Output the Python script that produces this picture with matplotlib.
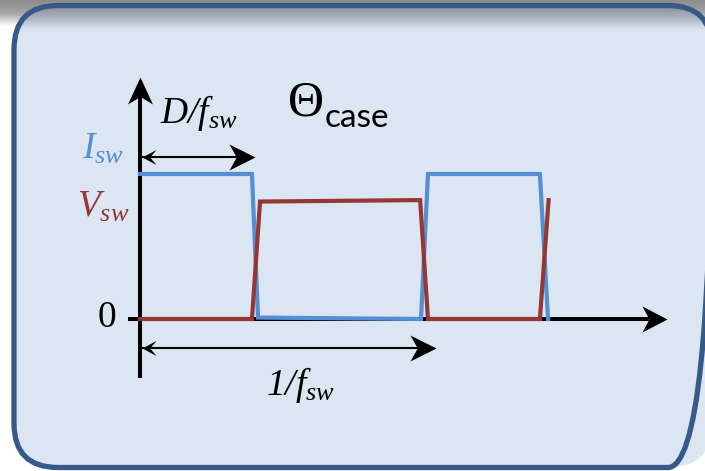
import numpy as np
import matplotlib.pyplot as plt
from matplotlib.patches import FancyBboxPatch
from matplotlib.markers import MarkerStyle
from matplotlib.path import Path
from matplotlib.transforms import Affine2D
from matplotlib.colors import LinearSegmentedColormap

plt.rcParams['mathtext.fontset'] = 'custom'
plt.rcParams['mathtext.it'] = 'Liberation Serif:italic'
plt.rcParams['mathtext.rm'] = 'Liberation Serif:italic'

# switching waveforms (time in arbitrary units, amplitude normalised to I_sw)
t_isw = [0, 38.6, 40.7, 96.9, 99.3, 137.9, 140.7]
i_sw = [1.0, 1.0, 0.01, 0.0, 1.0, 1.0, 0.0]
t_vsw = [0, 38.6, 41.4, 96.6, 99.3, 137.9, 140.9]
v_sw = [0.0, 0.0, 0.81, 0.82, 0.0, 0.0, 0.82]

d_end = 39.7        # D/f_sw marker
period_end = 102.0  # 1/f_sw marker

blue = '#558ed5'
red = '#953735'

fig = plt.figure(figsize=(7.05, 4.71), dpi=100)
fig.patch.set_facecolor('white')

# background / frame in pixel coords
bg = fig.add_axes([0, 0, 1, 1])
bg.set_xlim(0, 705)
bg.set_ylim(471, 0)
bg.axis('off')

grey = LinearSegmentedColormap.from_list('g', ['#8c8c8c', '#a4a4a4', '#ffffff'])
bg.imshow(np.linspace(0, 1, 60).reshape(-1, 1), cmap=grey, aspect='auto',
          extent=(0, 705, 26, 0), zorder=0)

box = FancyBboxPatch((14, 5.5), 698, 462, boxstyle='round,pad=0,rounding_size=44',
                     facecolor='#dce6f2', edgecolor='none', zorder=1)
bg.add_patch(box)
shade = LinearSegmentedColormap.from_list('s', ['#868d96', '#a9b1bc', '#dce6f2'])
im = bg.imshow(np.linspace(0, 1, 60).reshape(-1, 1), cmap=shade, aspect='auto',
               extent=(0, 705, 30, 5), zorder=2)
im.set_clip_path(box)
border = FancyBboxPatch((14, 5.5), 698, 462, boxstyle='round,pad=0,rounding_size=44',
                        facecolor='none', edgecolor='#36598a', linewidth=3.8, zorder=3)
bg.add_patch(border)

# waveform axes
PX_X, PX_Y = 2.9, 145.0
ax = fig.add_axes([0, 0, 1, 1], facecolor='none')
ax.set_xlim(-140 / PX_X, (705 - 140) / PX_X)
ax.set_ylim(-(471 - 319) / PX_Y, 319 / PX_Y)
ax.axis('off')


def head(x, y, angle, length, width, notch=0.72):
    # stealth arrowhead, length/width in pixels
    verts = [(0, 0), (-1, width / length), (-notch, 0), (-1, -width / length), (0, 0)]
    codes = [Path.MOVETO, Path.LINETO, Path.LINETO, Path.LINETO, Path.CLOSEPOLY]
    m = MarkerStyle(Path(verts, codes), transform=Affine2D().rotate_deg(angle))
    ax.plot([x], [y], marker=m, markersize=2 * length / 1.389,
            markerfacecolor='black', markeredgecolor='none', linestyle='none', zorder=6)


# axes arrows
ax.plot([0, 0], [-0.407, 1.669 - 0.7 * 27 / PX_Y], color='black', lw=2.9,
        solid_capstyle='butt', zorder=4)
head(0, 1.669, 90, 27, 12.5)
ax.plot([-4.14, 181.7 - 0.7 * 25 / PX_X], [0, 0], color='black', lw=2.9,
        solid_capstyle='butt', zorder=4)
head(181.7, 0, 0, 25, 13)

# waveforms
ax.plot(t_isw, i_sw, color=blue, lw=3.0, solid_joinstyle='miter', zorder=5)
ax.plot(t_vsw, v_sw, color=red, lw=3.0, solid_joinstyle='miter', zorder=5)

# D/f_sw dimension arrow
y_d = (319 - 157) / PX_Y
ax.plot([0.7, d_end - 0.7 * 26 / PX_X], [y_d, y_d], color='black', lw=1.5, zorder=4)
head(d_end, y_d, 0, 26, 13)
head(0.7, y_d, 180, 14, 7.5, notch=0.55)

# 1/f_sw dimension arrow
y_p = (319 - 348) / PX_Y
ax.plot([0.7, period_end - 0.7 * 26 / PX_X], [y_p, y_p], color='black', lw=1.5, zorder=4)
head(period_end, y_p, 0, 26, 13)
head(0.7, y_p, 180, 14, 7.5, notch=0.55)

# labels (pixel coords)
bg.text(160, 123, r'$D/f_{sw}$', fontsize=27, ha='left', va='baseline', zorder=7)
bg.text(288, 116, 'Θ', fontsize=36, family='Liberation Serif', ha='left', va='baseline', zorder=7)
bg.text(325, 127, 'case', fontsize=24, family='Lato', ha='left', va='baseline', zorder=7)
bg.text(124, 159, r'$I_{sw}$', fontsize=27, color=blue, ha='right', va='baseline', zorder=7)
bg.text(129, 217, r'$V_{sw}$', fontsize=27, color=red, ha='right', va='baseline', zorder=7)
bg.text(107, 327, '0', fontsize=27, family='Liberation Serif', ha='center', va='baseline', zorder=7)
bg.text(266, 395, r'$1/f_{sw}$', fontsize=27, ha='left', va='baseline', zorder=7)

fig.savefig('out.png', dpi=100)
